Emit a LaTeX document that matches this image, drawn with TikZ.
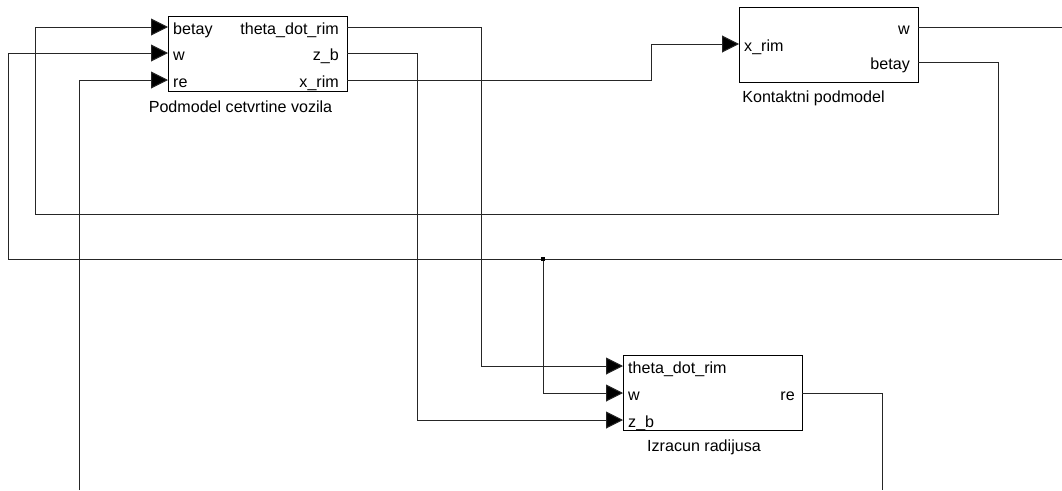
\documentclass[tikz,border=0pt]{standalone}
\usepackage{fontspec}
\setmainfont{Liberation Sans}
\usetikzlibrary{arrows.meta}
\begin{document}
\begin{tikzpicture}[x=1pt,y=-1pt,
  font=\fontsize{16.1}{19}\selectfont,
  blk/.style={draw=black,line width=0.9pt,fill=white,minimum width=179pt,minimum height=75pt,inner sep=0pt},
  wire/.style={draw=black!85,line width=1pt},
  inarrow/.style={wire,-{Triangle[length=17pt,width=17pt,fill=black]}},
  pinlbl/.style={inner sep=0pt},
  caplbl/.style={inner sep=0pt}]
\useasboundingbox (0,0) rectangle (1062,490);
% blocks
\node[blk] (pm) at (257.5,54) {};
\node[blk] (kp) at (828.5,44.5) {};
\node[blk] (ir) at (712.5,392.5) {};
% captions
\node[caplbl] (pmcap) at (240.5,107) {Podmodel cetvrtine vozila};
\node[caplbl] (kpcap) at (813.5,98) {Kontaktni podmodel};
\node[caplbl] (ircap) at (704,447) {Izracun radijusa};
% ports of Podmodel
\coordinate (pmin1) at (168,27);
\coordinate (pmin2) at (168,53);
\coordinate (pmin3) at (168,80);
\coordinate (pmout1) at (347,27);
\coordinate (pmout2) at (347,53);
\coordinate (pmout3) at (347,80);
\node[pinlbl,anchor=west] (l1) at (173,30) {betay};
\node[pinlbl,anchor=west] (l2) at (173,56) {w};
\node[pinlbl,anchor=west] (l3) at (173,83) {re};
\node[pinlbl,anchor=east] (l4) at (339,30) {theta\_dot\_rim};
\node[pinlbl,anchor=east] (l5) at (339,56) {z\_b};
\node[pinlbl,anchor=east] (l6) at (339,83) {x\_rim};
% ports of Kontaktni
\coordinate (kpin1) at (739,44);
\coordinate (kpout1) at (918,27);
\coordinate (kpout2) at (918,62);
\node[pinlbl,anchor=west] (l7) at (744,47) {x\_rim};
\node[pinlbl,anchor=east] (l8) at (910,30) {w};
\node[pinlbl,anchor=east] (l9) at (910,65) {betay};
% ports of Izracun
\coordinate (irin1) at (623,366);
\coordinate (irin2) at (623,393);
\coordinate (irin3) at (623,420);
\coordinate (irout1) at (802,393);
\node[pinlbl,anchor=west] (l10) at (628,369) {theta\_dot\_rim};
\node[pinlbl,anchor=west] (l11) at (628,396) {w};
\node[pinlbl,anchor=west] (l12) at (628,423) {z\_b};
\node[pinlbl,anchor=east] (l13) at (795,396) {re};
% free ends at picture edges
\coordinate (wright) at (1062,27);
\coordinate (wfromright) at (1062,259);
\coordinate (rebottom) at (882,490);
\coordinate (refrombottom) at (79,490);
\coordinate (jn) at (543,259);
% connectors
\draw[inarrow] (kpout2) -- (998,62) -- (998,214) -- (35,214) -- (35,27) -- (pmin1);
\draw[wire] (kpout1) -- (wright);
\draw[inarrow] (wfromright) -- (8,259) -- (8,53) -- (pmin2);
\draw[inarrow] (jn) -- (543,393) -- (irin2);
\fill[black] (jn) +(-2,-2) rectangle +(2,2);
\draw[wire] (irout1) -- (882,393) -- (rebottom);
\draw[inarrow] (refrombottom) -- (79,80) -- (pmin3);
\draw[inarrow] (pmout1) -- (481,27) -- (481,366) -- (irin1);
\draw[inarrow] (pmout2) -- (417,53) -- (417,420) -- (irin3);
\draw[inarrow] (pmout3) -- (651,80) -- (651,44) -- (kpin1);
\end{tikzpicture}
\end{document}
